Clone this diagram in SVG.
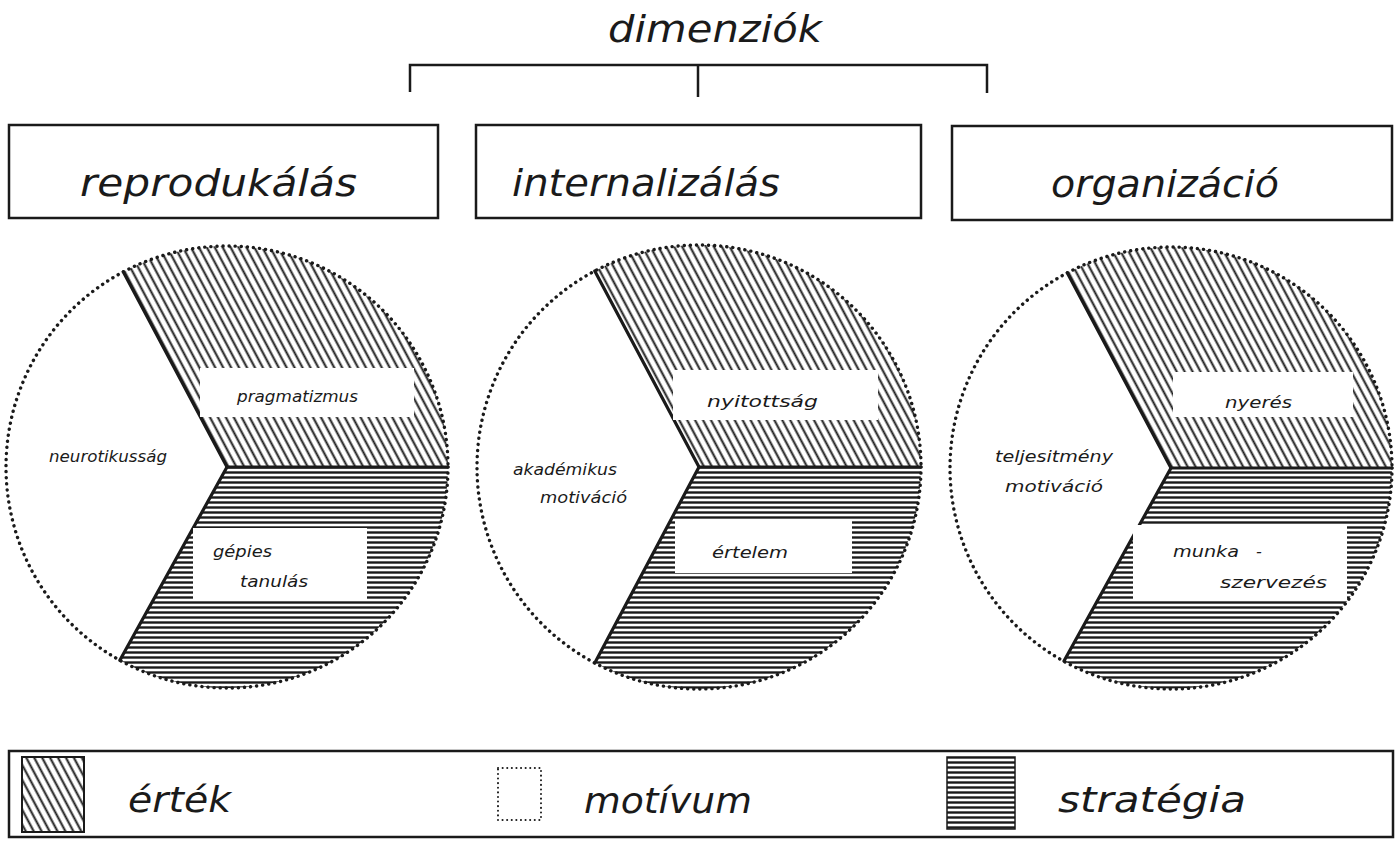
<svg xmlns="http://www.w3.org/2000/svg" width="1397" height="850" viewBox="0 0 1397 850">
<style>
text{font-family:"DejaVu Sans","Liberation Sans",sans-serif;font-style:italic;fill:#1a1a1a}
.hdr{font-size:38px}
.lbl{font-size:16px}
.leg{font-size:36px}
.box{fill:none;stroke:#1a1a1a;stroke-width:2.5}
.rad{stroke:#1a1a1a;stroke-width:3.2;fill:none;stroke-linecap:round}
.dots{fill:none;stroke:#1a1a1a;stroke-width:3.4;stroke-dasharray:0.1 6;stroke-linecap:round}
.conn{fill:none;stroke:#1a1a1a;stroke-width:2.5}
.white{fill:#fff}
</style>
<defs>
<pattern id="diag" patternUnits="userSpaceOnUse" width="7" height="20" patternTransform="rotate(-28)">
<line x1="3.5" y1="-1" x2="3.5" y2="21" stroke="#1a1a1a" stroke-width="2"/>
</pattern>
<pattern id="horiz" patternUnits="userSpaceOnUse" width="20" height="5">
<line x1="-1" y1="2.5" x2="21" y2="2.5" stroke="#1a1a1a" stroke-width="2.4"/>
</pattern>
</defs>
<rect width="1397" height="850" fill="#fff"/>

<g id="title">
<text class="hdr" x="608" y="42" textLength="214" lengthAdjust="spacingAndGlyphs">dimenziók</text>
</g>

<g id="connectors">
<path class="conn" d="M410 92 V65 H987 V93"/>
<path class="conn" d="M698 65 V97"/>
</g>

<g id="box-reprodukalas">
<rect class="box" x="9" y="125" width="429" height="93"/>
<text class="hdr" x="80" y="196" textLength="277" lengthAdjust="spacingAndGlyphs">reprodukálás</text>
</g>
<g id="box-internalizalas">
<rect class="box" x="476" y="125" width="445" height="93"/>
<text class="hdr" x="512" y="196" textLength="268" lengthAdjust="spacingAndGlyphs">internalizálás</text>
</g>
<g id="box-organizacio">
<rect class="box" x="952" y="126" width="440" height="94"/>
<text class="hdr" x="1051" y="197" textLength="228" lengthAdjust="spacingAndGlyphs">organizáció</text>
</g>

<g id="circle-1">
<path fill="url(#diag)" d="M227 467 L123.25 271.87 A221 221 0 0 1 448 467 Z"/>
<path fill="url(#horiz)" d="M227 467 L448 467 A221 221 0 0 1 119.86 660.29 Z"/>
<circle class="dots" cx="227" cy="467" r="221"/>
<path class="rad" d="M123.25 271.87 L227 467 L119.86 660.29"/>
<path class="rad" d="M227 467 H448" stroke-width="3.5"/>
<rect class="white" x="200" y="368" width="214" height="49"/>
<rect class="white" x="193" y="528" width="174" height="72"/>
<text class="lbl" x="49" y="462" textLength="118" lengthAdjust="spacingAndGlyphs">neurotikusság</text>
<text class="lbl" x="237" y="402" textLength="121" lengthAdjust="spacingAndGlyphs">pragmatizmus</text>
<text class="lbl" x="213" y="557" textLength="59" lengthAdjust="spacingAndGlyphs">gépies</text>
<text class="lbl" x="240" y="587" textLength="68" lengthAdjust="spacingAndGlyphs">tanulás</text>
</g>

<g id="circle-2">
<path fill="url(#diag)" d="M699 467 L594.78 270.99 A222 222 0 0 1 921 467 Z"/>
<path fill="url(#horiz)" d="M699 467 L921 467 A222 222 0 0 1 594.78 663.01 Z"/>
<circle class="dots" cx="699" cy="467" r="222"/>
<path class="rad" d="M594.78 270.99 L699 467 L594.78 663.01"/>
<path class="rad" d="M699 467 H921" stroke-width="3.5"/>
<rect class="white" x="673" y="370" width="205" height="50"/>
<rect class="white" x="675" y="520" width="177" height="53"/>
<text class="lbl" x="513" y="475" textLength="104" lengthAdjust="spacingAndGlyphs">akadémikus</text>
<text class="lbl" x="540" y="503" textLength="87" lengthAdjust="spacingAndGlyphs">motiváció</text>
<text class="lbl" x="707" y="407" textLength="111" lengthAdjust="spacingAndGlyphs">nyitottság</text>
<text class="lbl" x="712" y="558" textLength="76" lengthAdjust="spacingAndGlyphs">értelem</text>
</g>

<g id="circle-3">
<path fill="url(#diag)" d="M1171 468 L1067.25 272.87 A221 221 0 0 1 1392 468 Z"/>
<path fill="url(#horiz)" d="M1171 468 L1392 468 A221 221 0 0 1 1064 661 Z"/>
<circle class="dots" cx="1171" cy="468" r="221"/>
<path class="rad" d="M1067.25 272.87 L1171 468 L1064 661"/>
<path class="rad" d="M1171 468 H1392" stroke-width="3.5"/>
<rect class="white" x="1173" y="372" width="180" height="45"/>
<rect class="white" x="1133" y="525" width="214" height="75"/>
<text class="lbl" x="995" y="462" textLength="118" lengthAdjust="spacingAndGlyphs">teljesitmény</text>
<text class="lbl" x="1005" y="492" textLength="98" lengthAdjust="spacingAndGlyphs">motiváció</text>
<text class="lbl" x="1225" y="408" textLength="67" lengthAdjust="spacingAndGlyphs">nyerés</text>
<text class="lbl" x="1173" y="557"><tspan textLength="66" lengthAdjust="spacingAndGlyphs">munka</tspan><tspan x="1256">-</tspan></text>
<text class="lbl" x="1220" y="588" textLength="107" lengthAdjust="spacingAndGlyphs">szervezés</text>
</g>

<g id="legend">
<rect class="box" x="9" y="751" width="1384" height="86"/>
<rect x="22" y="757" width="62" height="75" fill="url(#diag)" stroke="#1a1a1a" stroke-width="2"/>
<text class="leg" x="128" y="812" textLength="103" lengthAdjust="spacingAndGlyphs">érték</text>
<rect x="498" y="768" width="43" height="52" fill="none" stroke="#1a1a1a" stroke-width="2" stroke-dasharray="0.1 4.5" stroke-linecap="round"/>
<text class="leg" x="584" y="813" textLength="168" lengthAdjust="spacingAndGlyphs">motívum</text>
<rect x="947" y="757" width="68" height="72" fill="url(#horiz)" stroke="#1a1a1a" stroke-width="1.5"/>
<text class="leg" x="1058" y="812" textLength="188" lengthAdjust="spacingAndGlyphs">stratégia</text>
</g>
</svg>
